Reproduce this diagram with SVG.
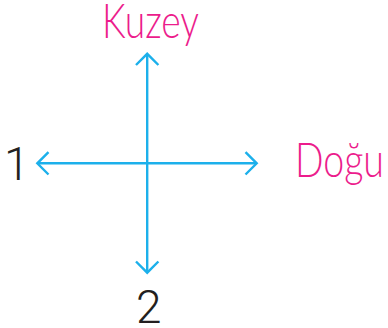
<svg xmlns="http://www.w3.org/2000/svg" width="388" height="328" viewBox="0 0 388 328">
<style>
.ax{stroke:#1cb0eb;stroke-width:2.4;fill:none;stroke-linecap:butt;stroke-linejoin:miter}
.lbl{fill:#ec1c8c;font-family:Lato,"Open Sans","Liberation Sans",sans-serif;font-weight:300;font-size:47px}
.num{fill:#231f20;font-family:Roboto,"Liberation Sans",sans-serif;font-weight:300;font-size:46px}
</style>
<rect width="388" height="328" fill="#ffffff"/>
<g id="connectors">
<line class="ax" x1="147.2" y1="54.5" x2="147.2" y2="272"/>
<line class="ax" x1="38" y1="163.3" x2="256" y2="163.3"/>
<polyline class="ax" points="136,65 147.2,53.8 158.4,65"/>
<polyline class="ax" points="136,261.5 147.2,272.7 158.4,261.5"/>
<polyline class="ax" points="48.5,152.1 37.3,163.3 48.5,174.5"/>
<polyline class="ax" points="245.5,152.1 256.7,163.3 245.5,174.5"/>
</g>
<g id="kuzey"><text class="lbl" x="102" y="38.3" textLength="97" lengthAdjust="spacingAndGlyphs">Kuzey</text></g>
<g id="dogu"><text class="lbl" x="295" y="176.7" textLength="89" lengthAdjust="spacingAndGlyphs">Doğu</text></g>
<g id="n1"><text class="num" x="4" y="180">1</text></g>
<g id="n2"><text class="num" x="136" y="322.7">2</text></g>
</svg>
